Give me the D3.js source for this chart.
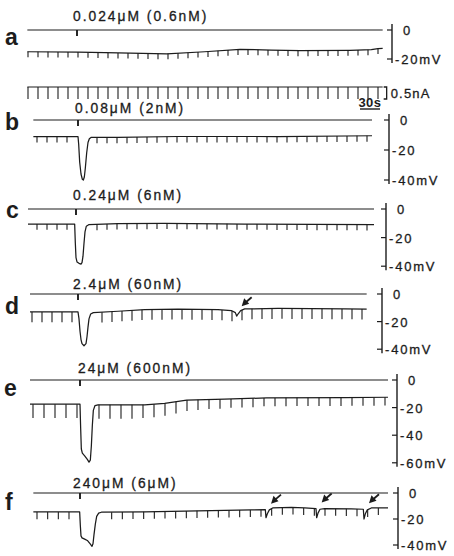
<!DOCTYPE html>
<html>
<head>
<meta charset="utf-8">
<script src="https://cdn.jsdelivr.net/npm/d3@7"></script>
<style>
  body { margin: 0; background: #fff; }
  svg text { font-family: "Liberation Sans", Arial, sans-serif; fill: #1c1c1c; }
</style>
</head>
<body>
<div id="chart"></div>
<script>
// ---- data (time in s relative to drug application, potential in mV) ----
const panelLetters = ['a', 'b', 'c', 'd', 'e', 'f'];
const concLabels = ['0.024μM (0.6nM)', '0.08μM (2nM)', '0.24μM (6nM)', '2.4μM (60nM)', '24μM (600nM)', '240μM (6μM)'];
const scaleTicks = [[0, -20], [0, -20, -40], [0, -20, -40], [0, -20, -40], [0, -20, -40, -60], [0, -20, -40]];
const stimTimes = [-1.5, 0, -3, 0, 3, 3];

const traceA = [[-76, -15], [0, -15.2], [60, -15.8], [133, -16.4], [190, -15], [243, -13.3], [290, -13.8],
  [333, -14.3], [408, -14], [440, -13.6], [450, -12.8], [457, -12.6]];
const traceB = [[-67, -11], [0, -11], [1, -16], [2.5, -28], [4.5, -36], [6.5, -39.5], [8, -40], [9.5, -38],
  [11, -32], [13, -22], [15, -15], [17, -12.5], [20, -11.5], [60, -11.5], [150, -11], [300, -11], [441, -10.5]];
const traceC = [[-75, -10.5], [-5, -10.5], [-4, -24], [-3, -34], [-1.5, -37], [1.5, -38], [4.5, -38.5], [6, -37.5],
  [7.5, -33], [9, -24], [10.5, -16], [12.5, -12], [16, -11], [60, -10.3], [130, -10], [250, -10.5], [444, -11]];
const traceD = [[-72, -13], [0, -13], [1.5, -18], [3, -27], [4.5, -33], [6, -36], [9, -37.5], [12, -36],
  [13.5, -31], [15, -24], [16.5, -18], [19, -14.5], [23, -13.5], [60, -12.5], [100, -11.3], [150, -11],
  [210, -11.3], [230, -12], [236, -13.5], [238, -16], [240, -14.5], [244, -12], [250, -10.8], [300, -10.5],
  [350, -10.6], [400, -10.8], [433, -11]];
const traceE = [[-72, -17.5], [3, -17.5], [4, -35], [5, -50], [6.5, -53], [10, -55], [14, -57.5], [16.5, -59.5],
  [18.5, -58], [20, -48], [21.5, -33], [23, -22], [25.5, -18.5], [30, -18], [100, -18], [130, -17],
  [163, -14.5], [220, -13.8], [283, -13], [400, -12.8], [465, -12.5]];
const traceF = [[-67, -14.6], [2.5, -14.6], [3.5, -25], [4.5, -33], [6, -34.5], [10, -35.5], [14, -36.5],
  [18, -39], [21, -41], [22.5, -39], [24, -32], [26, -24], [28, -18], [31, -15.5], [35, -14.8], [100, -14.5],
  [200, -13.5], [260, -13], [281, -12.8], [282, -19], [284, -16], [287, -13], [292, -11.5], [320, -11],
  [340, -11.5], [357, -12], [358, -19], [360, -15.5], [363, -12.5], [370, -12], [410, -12.2], [428, -12.5],
  [429, -20], [431, -16], [434, -13], [440, -11.5], [465, -11.5]];
const traces = [traceA, traceB, traceC, traceD, traceE, traceF];

// hyperpolarizing current pulses (s)
const pulsesA = [-75, -60, -45, -30, -15, 0, 15, 30, 45, 60, 75, 90, 105, 120, 135, 150, 165, 180, 195, 210,
  225, 240, 255, 270, 285, 300, 315, 330, 345, 360, 375, 390, 405, 420, 435, 450];
const pulsesB = [-61.5, -46.5, -31.5, -16.5, 28.5, 43.5, 58.5, 73.5, 88.5, 103.5, 118.5, 133.5, 148.5, 163.5,
  178.5, 193.5, 208.5, 223.5, 238.5, 253.5, 268.5, 283.5, 298.5, 313.5, 328.5, 343.5, 358.5, 373.5, 388.5,
  403.5, 418.5, 433.5];
const pulsesC = pulsesB.slice();
const pulsesD = [-69, -54, -39, -24, -9, 36, 51, 66, 81, 96, 111, 126, 141, 156, 171, 186, 201, 216, 231, 246,
  261, 276, 291, 306, 321, 336, 351, 366, 381, 396, 411, 426];
const pulsesE = [-67.5, -51, -34.5, -18, -1.5, 31.5, 48, 64.5, 81, 97.5, 114, 130.5, 147, 163.5, 180, 196.5,
  213, 229.5, 246, 262.5, 279, 295.5, 312, 328.5, 345, 361.5, 378, 394.5, 411, 427.5, 444, 460.5];
const pulsesF = [-61.5, -45.5, -29.5, -13.5, 50.5, 66.5, 82.5, 98.5, 114.5, 130.5, 146.5, 162.5, 178.5, 194.5,
  210.5, 226.5, 242.5, 258.5, 274.5, 290.5, 306.5, 322.5, 338.5, 354.5, 370.5, 386.5, 402.5, 418.5, 434.5, 450.5];
const pulses = [pulsesA, pulsesB, pulsesC, pulsesD, pulsesE, pulsesF];

// voltage deflection of each pulse (mV)
const pulseDepthA = 3.8, pulseDepthB = 4, pulseDepthC = 4, pulseDepthD = 7.5, pulseDepthF = 5.5;
const pulseDepthE = [10, 10, 10, 10, 10, 10, 10, 10, 10, 9.5, 9.5, 9, 8.5, 8, 7.5, 7, 7, 6.5, 6.5, 6.5, 6, 6,
  6, 6, 6, 6, 6, 6, 6, 6, 6, 6];
const pulseDepths = [pulseDepthA, pulseDepthB, pulseDepthC, pulseDepthD, pulseDepthE, pulseDepthF];

// injected current in a (nA)
const currentPulseNa = -0.5;
// events marked with arrows (s)
const arrowTimes = [[], [], [], [238], [], [282, 358, 429]];
const timeBarS = 30;

// ---- layout ----
const W = 454, H = 556;
const layout = [
  { y0: 30, mv: 1.45, barX: 392, textX: 73, textY: 21, letterX: 5, letterY: 45 },
  { y0: 120, mv: 1.5, barX: 389, textX: 75, textY: 113, letterX: 5, letterY: 130 },
  { y0: 209, mv: 1.43, barX: 386, textX: 73, textY: 200, letterX: 6, letterY: 218 },
  { y0: 294, mv: 1.38, barX: 382, textX: 73, textY: 289, letterX: 5, letterY: 314 },
  { y0: 380, mv: 1.38, barX: 397, textX: 78, textY: 373, letterX: 4, letterY: 396 },
  { y0: 493, mv: 1.3, barX: 398, textX: 73, textY: 488, letterX: 5, letterY: 510 }
];
const ink = '#1c1c1c';

const svg = d3.select('#chart').append('svg')
  .attr('width', W).attr('height', H)
  .attr('viewBox', `0 0 ${W} ${H}`);

// shared time axis: 30 s = 20 px
const x = d3.scaleLinear().domain([-75, 465]).range([28, 388]);
const bisect = d3.bisector((d) => d[0]).left;

function valueAt(trace, t) {
  const i = Math.max(1, Math.min(trace.length - 1, bisect(trace, t)));
  const a = trace[i - 1], b = trace[i];
  const k = (t - a[0]) / (b[0] - a[0] || 1);
  return a[1] + (b[1] - a[1]) * Math.max(0, Math.min(1, k));
}

panelLetters.forEach((letter, p) => {
  const L = layout[p];
  const trace = traces[p];
  const ticks = scaleTicks[p];
  const vMin = d3.min(ticks);
  const y = d3.scaleLinear().domain([0, vMin]).range([L.y0, L.y0 - vMin * L.mv]);
  const g = svg.append('g').attr('class', `panel-${letter}`);
  const t0 = trace[0][0], t1 = trace[trace.length - 1][0];

  // panel letter
  g.append('text')
    .attr('x', L.letterX).attr('y', L.letterY)
    .style('font-size', '23px').style('font-weight', 'bold')
    .text(letter);

  // concentration label
  g.append('text')
    .attr('x', L.textX).attr('y', L.textY)
    .style('font-size', '13.8px').style('letter-spacing', '2px')
    .style('stroke', ink).style('stroke-width', '0.3px')
    .text(concLabels[p]);

  // reference line with application marker
  g.append('line')
    .attr('x1', x(t0)).attr('x2', x(t1))
    .attr('y1', y(0)).attr('y2', y(0))
    .attr('stroke', ink).attr('stroke-width', 1.2);
  g.append('line')
    .attr('x1', x(stimTimes[p])).attr('x2', x(stimTimes[p]))
    .attr('y1', y(0)).attr('y2', y(0) + 6)
    .attr('stroke', ink).attr('stroke-width', 1.9);

  // membrane potential trace
  const line = d3.line().x((d) => x(d[0])).y((d) => y(d[1]));
  g.append('path')
    .datum(trace)
    .attr('d', line)
    .attr('fill', 'none')
    .attr('stroke', ink).attr('stroke-width', 1.25)
    .attr('stroke-linejoin', 'round');

  // pulse responses
  const depth = pulseDepths[p];
  g.append('g').selectAll('line')
    .data(pulses[p])
    .join('line')
    .attr('x1', (t) => x(t)).attr('x2', (t) => x(t))
    .attr('y1', (t) => y(valueAt(trace, t)))
    .attr('y2', (t, i) => y(valueAt(trace, t) - (Array.isArray(depth) ? depth[i] : depth)))
    .attr('stroke', ink).attr('stroke-width', 1.1);

  // arrows
  arrowTimes[p].forEach((t) => {
    const tipX = x(t) + 5, tipY = y(valueAt(trace, t - 3)) - 6;
    g.append('line')
      .attr('x1', tipX + 3).attr('y1', tipY - 3)
      .attr('x2', tipX + 10).attr('y2', tipY - 9)
      .attr('stroke', ink).attr('stroke-width', 1.8);
    g.append('path')
      .attr('d', `M${tipX},${tipY} L${tipX + 7.5},${tipY - 2.5} L${tipX + 2.5},${tipY - 8} Z`)
      .attr('fill', ink);
  });

  // mV scale bar
  const bar = g.append('g').attr('transform', `translate(${L.barX},0)`);
  bar.append('line')
    .attr('x1', 0).attr('x2', 0)
    .attr('y1', y(0) - 6).attr('y2', y(vMin) + 4)
    .attr('stroke', ink).attr('stroke-width', 1.4);
  bar.selectAll('.tk')
    .data(ticks)
    .join('line')
    .attr('x1', -5).attr('x2', 0)
    .attr('y1', (v) => y(v)).attr('y2', (v) => y(v))
    .attr('stroke', ink).attr('stroke-width', 1.2);
  bar.selectAll('text')
    .data(ticks)
    .join('text')
    .attr('x', (v) => (v === 0 ? 11 : 3))
    .attr('y', (v) => y(v) + 5)
    .style('font-size', '13px').style('letter-spacing', '1.8px')
    .style('stroke', ink).style('stroke-width', '0.3px')
    .text((v, i) => (v === 0 ? '0' : i === ticks.length - 1 ? `${v}mV` : `${v}`));

  if (p === 0) {
    // injected current trace
    const yI = d3.scaleLinear().domain([0, currentPulseNa]).range([87, 99]);
    g.append('line')
      .attr('x1', x(t0)).attr('x2', x(t1))
      .attr('y1', yI(0)).attr('y2', yI(0))
      .attr('stroke', ink).attr('stroke-width', 1.2);
    g.append('g').selectAll('line')
      .data(pulsesA)
      .join('line')
      .attr('x1', (t) => x(t)).attr('x2', (t) => x(t))
      .attr('y1', yI(0)).attr('y2', yI(currentPulseNa))
      .attr('stroke', ink).attr('stroke-width', 1.1);
    g.append('path')
      .attr('d', `M${x(t1) + 1},${yI(0)} h3 V${yI(currentPulseNa)} h-3`)
      .attr('fill', 'none').attr('stroke', ink).attr('stroke-width', 1.3);
    g.append('text')
      .attr('x', x(t1) + 8).attr('y', yI(currentPulseNa / 2) + 5)
      .style('font-size', '13px').style('letter-spacing', '1.2px')
      .style('stroke', ink).style('stroke-width', '0.3px')
      .text(`${Math.abs(currentPulseNa)}nA`);
  }

  if (p === 1) {
    // time scale bar
    const tb0 = 423;
    g.append('line')
      .attr('x1', x(tb0)).attr('x2', x(tb0 + timeBarS))
      .attr('y1', 109).attr('y2', 109)
      .attr('stroke', ink).attr('stroke-width', 1.4);
    g.append('text')
      .attr('x', (x(tb0) + x(tb0 + timeBarS)) / 2).attr('y', 107)
      .attr('text-anchor', 'middle')
      .style('font-size', '13px').style('font-weight', 'bold').style('letter-spacing', '0.5px')
      .text(`${timeBarS}s`);
  }
});
</script>
</body>
</html>
